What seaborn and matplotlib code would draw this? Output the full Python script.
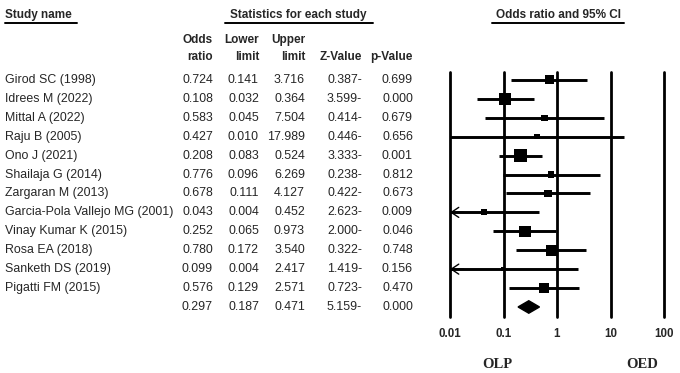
import numpy as np
import pandas as pd
import seaborn as sns
import matplotlib.pyplot as plt
from matplotlib import transforms
from matplotlib.lines import Line2D

# dados do forest plot
studies = ['Girod SC (1998)', 'Idrees M (2022)', 'Mittal A (2022)', 'Raju B (2005)',
           'Ono J (2021)', 'Shailaja G (2014)', 'Zargaran M (2013)',
           'Garcia-Pola Vallejo MG (2001)', 'Vinay Kumar K (2015)', 'Rosa EA (2018)',
           'Sanketh DS (2019)', 'Pigatti FM (2015)']
odds = [0.724, 0.108, 0.583, 0.427, 0.208, 0.776, 0.678, 0.043, 0.252, 0.780, 0.099, 0.576]
lower = [0.141, 0.032, 0.045, 0.010, 0.083, 0.096, 0.111, 0.004, 0.065, 0.172, 0.004, 0.129]
upper = [3.716, 0.364, 7.504, 17.989, 0.524, 6.269, 4.127, 0.452, 0.973, 3.540, 2.417, 2.571]
zval = ['0.387-', '3.599-', '0.414-', '0.446-', '3.333-', '0.238-', '0.422-', '2.623-',
        '2.000-', '0.322-', '1.419-', '0.723-']
pval = ['0.699', '0.000', '0.679', '0.656', '0.001', '0.812', '0.673', '0.009',
        '0.046', '0.748', '0.156', '0.470']
# peso relativo (estimado pelo tamanho dos quadrados)
weights = [64, 121, 30, 25, 144, 30, 42, 30, 100, 100, 16, 72]

# resultado combinado
sum_or, sum_low, sum_up, sum_z, sum_p = 0.297, 0.187, 0.471, '5.159-', '0.000'

ticks = [0.01, 0.1, 1, 10, 100]
tick_labels = ['0.01', '0.1', '1', '10', '100']

df = pd.DataFrame({'study': studies, 'odds': odds, 'lower': lower, 'upper': upper,
                   'weight': weights})
df['row'] = np.arange(len(df))

sns.set_style('white')
plt.rcParams['font.family'] = ['Liberation Sans', 'DejaVu Sans']

W, H = 680, 373
fig = plt.figure(figsize=(6.8, 3.73), dpi=100)
ax = fig.add_axes([450 / W, 1 - 317 / H, 214 / W, 245 / H])

xmin, xmax = 0.01, 100
ax.set_xscale('log')
ax.set_xlim(xmin, xmax)
ax.set_ylim(12.53, -0.42)

for t in ticks:
    ax.axvline(t, color='black', lw=2.0, zorder=1, clip_on=False)

# intervalos de confianca
for _, r in df.iterrows():
    lo = max(r['lower'], xmin)
    hi = min(r['upper'], xmax)
    ax.hlines(r['row'], lo, hi, color='black', lw=2.1, zorder=2)
    if r['lower'] < xmin:
        ax.annotate('', xy=(xmin, r['row']), xytext=(xmin * 1.8, r['row']),
                    arrowprops=dict(arrowstyle='->,head_length=0.45,head_width=0.3',
                                    lw=1.0, color='black', mutation_scale=12,
                                    shrinkA=0, shrinkB=0), zorder=3)

sns.scatterplot(data=df, x='odds', y='row', size='weight', sizes=(10, 95),
                size_norm=(16, 144), marker='s', color='black', edgecolor='black',
                linewidth=0, legend=False, ax=ax, zorder=4)

# diamante do resultado combinado
srow = len(df)
hh = 0.33
ax.fill([sum_low, sum_or, sum_up, sum_or], [srow, srow - hh, srow, srow + hh],
        color='black', zorder=4)

ax.set_xticks(ticks)
ax.set_xticklabels(tick_labels, fontweight='bold', fontsize=8.3)
ax.tick_params(axis='x', length=0, pad=8)
ax.minorticks_off()
ax.set_yticks([])
ax.set_xlabel('')
ax.set_ylabel('')
for s in ax.spines.values():
    s.set_visible(False)
ax.patch.set_alpha(0)

# tabela a esquerda
tr = transforms.blended_transform_factory(fig.transFigure, ax.transData)
fs = 8.9
col_right = [213, 259, 305, 362, 413]
for i in range(len(df)):
    fig.text(5 / W, i, studies[i], transform=tr, fontsize=fs, va='center', ha='left')
    vals = ['%.3f' % odds[i], '%.3f' % lower[i], '%.3f' % upper[i], zval[i], pval[i]]
    for x, v in zip(col_right, vals):
        fig.text(x / W, i, v, transform=tr, fontsize=fs, va='center', ha='right')
for x, v in zip(col_right, ['%.3f' % sum_or, '%.3f' % sum_low, '%.3f' % sum_up, sum_z, sum_p]):
    fig.text(x / W, srow, v, transform=tr, fontsize=fs, va='center', ha='right')

# cabecalhos
def ytop(y):
    return 1 - y / H

hb = dict(fontsize=8.5, fontweight='bold', va='center')
fig.text(5 / W, ytop(15), 'Study name', ha='left', **hb)
fig.text(298 / W, ytop(15), 'Statistics for each study', ha='center', **hb)
fig.text(558 / W, ytop(15), 'Odds ratio and 95% CI', ha='center', **hb)
for x0, x1 in [(5, 77), (225, 373), (492, 624)]:
    fig.add_artist(Line2D([x0 / W, x1 / W], [ytop(23), ytop(23)], color='black', lw=1.4,
                          transform=fig.transFigure))

sub1 = ['Odds', 'Lower', 'Upper', '', '']
sub2 = ['ratio', 'limit', 'limit', 'Z-Value', 'p-Value']
for x, a, b in zip(col_right, sub1, sub2):
    fig.text(x / W, ytop(40), a, ha='right', **hb)
    fig.text(x / W, ytop(57), b, ha='right', **hb)

# rotulos OLP / OED
fig.text(497 / W, ytop(364), 'OLP', ha='center', va='center', fontsize=10.5,
         fontweight='bold', family='Liberation Serif')
fig.text(642 / W, ytop(364), 'OED', ha='center', va='center', fontsize=10.5,
         fontweight='bold', family='Liberation Serif')

fig.savefig('out.png', dpi=100)
